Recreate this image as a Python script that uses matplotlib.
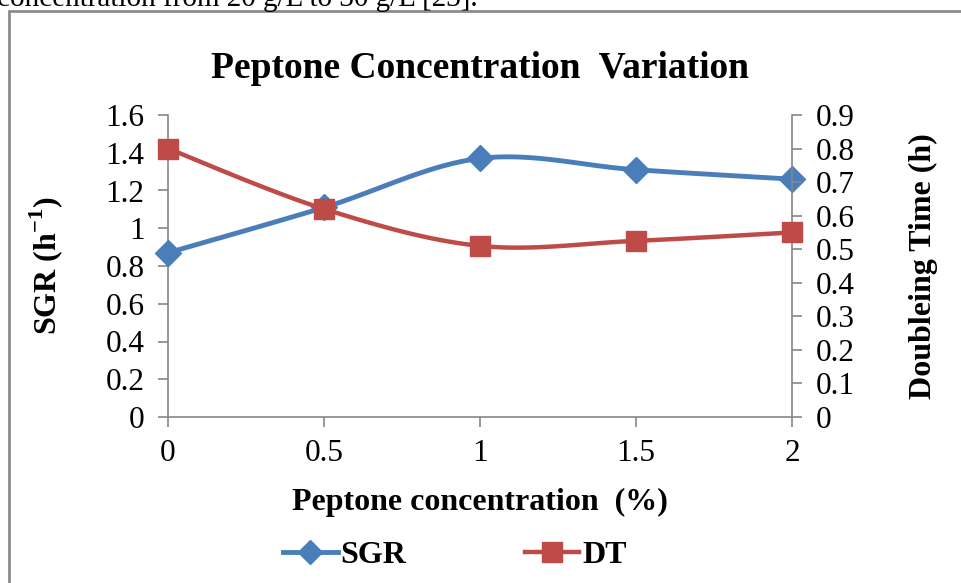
import numpy as np
import matplotlib.pyplot as plt
from matplotlib.patches import Rectangle
from matplotlib.lines import Line2D

conc = [0, 0.5, 1, 1.5, 2]
sgr = [0.87, 1.11, 1.37, 1.31, 1.26]
dt = [0.80, 0.62, 0.51, 0.525, 0.55]

blue = '#4A7EBB'
red = '#BE4B48'
axis_gray = '#868686'

plt.rcParams['font.family'] = ['Liberation Serif', 'DejaVu Serif']
plt.rcParams['mathtext.fontset'] = 'custom'
plt.rcParams['mathtext.rm'] = 'Liberation Serif'
plt.rcParams['mathtext.bf'] = 'Liberation Serif:bold'


def smooth(x, y, n=30):
    # Excel-style smoothed line: cubic Bezier through the points
    x = np.asarray(x, float)
    y = np.asarray(y, float)
    px, py = [], []
    for i in range(len(x) - 1):
        x0, y0 = (x[i - 1], y[i - 1]) if i > 0 else (x[i], y[i])
        x3, y3 = (x[i + 2], y[i + 2]) if i + 2 < len(x) else (x[i + 1], y[i + 1])
        c1x = x[i] + (x[i + 1] - x0) / 6
        c1y = y[i] + (y[i + 1] - y0) / 6
        c2x = x[i + 1] - (x3 - x[i]) / 6
        c2y = y[i + 1] - (y3 - y[i]) / 6
        t = np.linspace(0, 1, n)
        px.append((1 - t) ** 3 * x[i] + 3 * (1 - t) ** 2 * t * c1x + 3 * (1 - t) * t ** 2 * c2x + t ** 3 * x[i + 1])
        py.append((1 - t) ** 3 * y[i] + 3 * (1 - t) ** 2 * t * c1y + 3 * (1 - t) * t ** 2 * c2y + t ** 3 * y[i + 1])
    return np.concatenate(px), np.concatenate(py)


fig = plt.figure(figsize=(9.61, 5.83), dpi=100)

# clipped line of body text above the chart and the chart frame
fig.text(-0.003, 0.989, 'concentration from 20 g/L to 30 g/L [23].', fontsize=21, va='baseline', ha='left')
fig.patches.append(Rectangle((9 / 961, -0.05), 1.1, 1 - 11 / 583 + 0.05, transform=fig.transFigure,
                             fill=False, edgecolor='#8C8C8C', linewidth=2))

ax = fig.add_axes([168 / 961, 1 - 417 / 583, 624 / 961, 302 / 583])
ax2 = ax.twinx()

sx, sy = smooth(conc, sgr)
ax.plot(sx, sy, color=blue, lw=3.5, solid_capstyle='round', zorder=3)
ax.plot(conc, sgr, 'D', color=blue, ms=13, zorder=4, clip_on=False)

dx, dy = smooth(conc, dt)
ax2.plot(dx, dy, color=red, lw=3.2, solid_capstyle='round', zorder=3)
ax2.plot(conc, dt, 's', color=red, ms=15, zorder=4, clip_on=False)

ax.set_xlim(0, 2)
ax.set_ylim(0, 1.6)
ax2.set_ylim(0, 0.9)
ax.set_xticks(conc)
ax.set_xticklabels(['0', '0.5', '1', '1.5', '2'])
ax.set_yticks(np.arange(0, 1.61, 0.2))
ax.set_yticklabels(['0', '0.2', '0.4', '0.6', '0.8', '1', '1.2', '1.4', '1.6'])
ax2.set_yticks(np.arange(0, 0.91, 0.1))
ax2.set_yticklabels(['0', '0.1', '0.2', '0.3', '0.4', '0.5', '0.6', '0.7', '0.8', '0.9'])

for a in (ax, ax2):
    for s in a.spines.values():
        s.set_visible(False)
    a.tick_params(colors=axis_gray, labelcolor='black', labelsize=22.5, length=7, width=1.2)
ax.spines['left'].set_visible(True)
ax.spines['bottom'].set_visible(True)
ax2.spines['right'].set_visible(True)
for s in (ax.spines['left'], ax.spines['bottom'], ax2.spines['right']):
    s.set_color(axis_gray)
    s.set_linewidth(1.2)
ax.tick_params(axis='x', pad=9)
ax.tick_params(axis='y', pad=10)
ax2.tick_params(axis='y', pad=10)

ax.set_ylabel('SGR (h$^{\\mathbf{-1}}$)', fontsize=23, fontweight='bold', labelpad=29)
ax2.set_ylabel('Doubleing Time (h)', fontsize=23, fontweight='bold', labelpad=39)
ax.set_xlabel('Peptone concentration  (%)', fontsize=23, fontweight='bold', labelpad=14)
fig.text(480 / 961, 1 - 68 / 583, 'Peptone Concentration  Variation', fontsize=27, fontweight='bold',
         ha='center', va='center')

handles = [Line2D([], [], color=blue, lw=3.5, marker='D', ms=12),
           Line2D([], [], color=red, lw=3.2, marker='s', ms=14)]
leg = fig.legend(handles, ['SGR', 'DT'], loc='center', bbox_to_anchor=(455 / 961, 1 - 555 / 583), ncol=2,
                 frameon=False, handlelength=1.7, handletextpad=0.1, columnspacing=3.7,
                 prop={'size': 23, 'weight': 'bold'})

fig.savefig('out.png', dpi=100)
